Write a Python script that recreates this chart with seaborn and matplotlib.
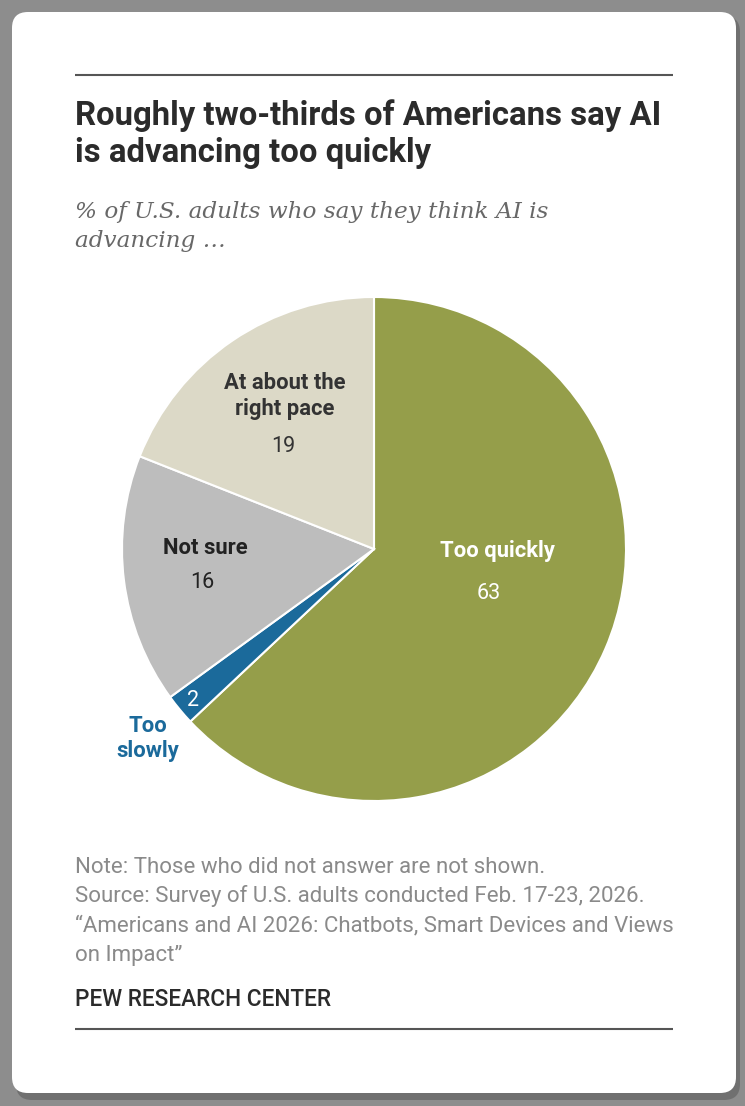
# Pew-style pie: views on the pace of AI development
import matplotlib.pyplot as plt
import seaborn as sns
from matplotlib.patches import FancyBboxPatch

sns.set_theme(style="white")
plt.rcParams['font.family'] = ['Roboto', 'DejaVu Sans']

# Data
categories = ["Too quickly", "Too\nslowly", "Not sure", "At about the\nright pace"]
values = [63, 2, 16, 19]
colors = ["#959e4a", "#1b6a9b", "#bdbdbd", "#dcd9c7"]

title_lines = ["Roughly two-thirds of Americans say AI", "is advancing too quickly"]
subtitle_lines = ["% of U.S. adults who say they think AI is", "advancing \u2026"]
notes = ["Note: Those who did not answer are not shown.",
         "Source: Survey of U.S. adults conducted Feb. 17-23, 2026.",
         "\u201cAmericans and AI 2026: Chatbots, Smart Devices and Views",
         "on Impact\u201d"]

W, H = 745, 1106
fig = plt.figure(figsize=(W / 100, H / 100), dpi=100)
fig.patch.set_facecolor("#8d8d8d")

# background axes in pixel units
bg = fig.add_axes([0, 0, 1, 1])
bg.set_xlim(0, W)
bg.set_ylim(H, 0)
bg.axis("off")
bg.add_patch(FancyBboxPatch((16, 16), 724, 1084, boxstyle="round,pad=0,rounding_size=16",
                            facecolor="#707070", edgecolor="none"))
bg.add_patch(FancyBboxPatch((12, 12), 724, 1081, boxstyle="round,pad=0,rounding_size=16",
                            facecolor="white", edgecolor="none"))
bg.plot([75, 673], [75, 75], color="#555555", lw=1.5, solid_capstyle="butt")
bg.plot([75, 673], [1029, 1029], color="#555555", lw=1.5, solid_capstyle="butt")

for i, line in enumerate(title_lines):
    bg.text(75, 125 + i * 37, line, fontsize=23.7, fontweight="bold", color="#2b2b2b",
            va="baseline", ha="left")
for i, line in enumerate(subtitle_lines):
    bg.text(75, 218 + i * 29, line, fontsize=16.7, style="italic", color="#686868",
            family=["DejaVu Serif"], va="baseline", ha="left")
for i, line in enumerate(notes):
    bg.text(75, 873 + i * 29.3, line, fontsize=16.0, color="#8a8a8a", va="baseline", ha="left")
bg.text(75, 1006, "PEW RESEARCH CENTER", fontsize=16.3, fontweight="medium", color="#2b2b2b",
        va="baseline", ha="left")

# pie axes: center (374, 549), radius 252 px
cx, cy, r = 374, 549, 252
ax = fig.add_axes([(cx - r) / W, (H - cy - r) / H, 2 * r / W, 2 * r / H])
ax.pie(values, colors=colors, startangle=90, counterclock=False, radius=1,
       wedgeprops=dict(edgecolor="white", linewidth=1.5))
ax.set_xlim(-1, 1)
ax.set_ylim(-1, 1)
ax.axis("off")

# label placement (pixel coords, baseline of first line) and text colours
label_pos = [(497, 557), (148, 732), (205, 554), (285, 389)]
value_pos = [(489, 599), (193, 706), (202, 588), (283, 452)]
label_col = ["white", "#1b6a9b", "#222222", "#333333"]
value_col = ["white", "white", "#222222", "#333333"]
for name, v, lp, vp, lc, vc in zip(categories, values, label_pos, value_pos, label_col, value_col):
    for j, part in enumerate(name.split("\n")):
        ax.text(lp[0], lp[1] + j * 25.5, part, transform=bg.transData, ha="center", va="baseline",
                fontsize=15.8, fontweight="bold", color=lc, clip_on=False)
    ax.text(vp[0], vp[1], str(v), transform=bg.transData, ha="center", va="baseline",
            fontsize=15.5, color=vc, clip_on=False)

fig.savefig("out.png", dpi=100, facecolor=fig.get_facecolor())
